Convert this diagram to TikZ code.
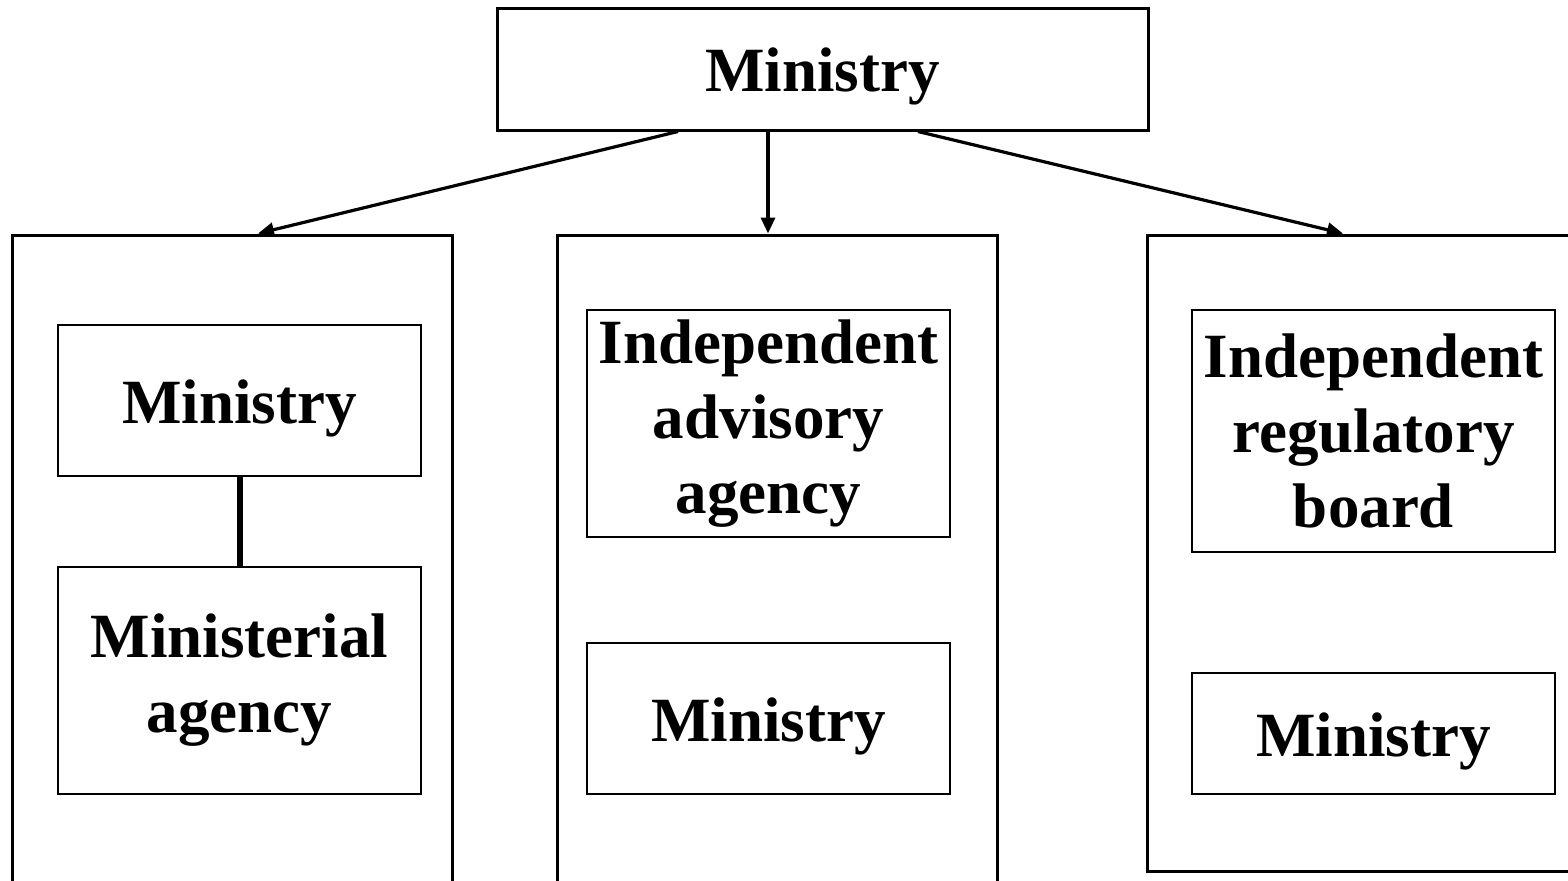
\documentclass[tikz,border=0pt]{standalone}
\usepackage{fontspec}
\setmainfont{Liberation Serif}
\usetikzlibrary{arrows.meta, positioning}

\begin{document}
\begin{tikzpicture}[
    x=0.5pt, y=-0.5pt,
    >={Triangle[length=8pt, width=7pt]},
    label/.style={font=\fontsize{31.5}{37.5}\selectfont\bfseries, align=center,
        execute at begin node={\rule{0pt}{29.5pt}}},
    panel/.style={draw, line width=1.5pt, minimum width=220pt, inner sep=0pt},
    unit/.style={draw, line width=1pt, minimum width=181.5pt, inner sep=0pt, label},
    arrow/.style={->, line width=1.6pt}
]
\useasboundingbox (0,0) rectangle (1568,880);
\clip (0,0) rectangle (1568,880);

% === Ministerio superior ===
\node[draw, line width=1.5pt, minimum width=325.5pt, minimum height=61pt, inner sep=0pt, label] (top) at (822.5,69) {Ministry};

% === Paneles ===
\node[panel, minimum height=382.5pt] (left) at (232,617.5) {};
\node[panel, minimum height=382.5pt] (mid) at (777,617.5) {};
\node[panel, minimum height=318pt] (right) at (1367,553) {};

% Flechas
\draw[arrow] ([xshift=-72.25pt]top.south) -- ([xshift=13pt]left.north);
\draw[arrow] ([xshift=-27.25pt]top.south) -- ([xshift=-4.5pt]mid.north);
\draw[arrow] ([xshift=47.75pt]top.south) -- ([xshift=-12pt]right.north);

% === Panel izquierdo ===
\node[unit, minimum height=75.5pt] (lmin) at (239.5,400.5) {Ministry};
\node[unit, minimum height=113.5pt] (lagency) at (239.5,680.5) {Ministerial\\agency};
\draw[line width=3pt] (lmin) -- (lagency);

% === Panel central ===
\node[unit, minimum height=113.5pt] (madvisory) at (768.5,423.5) {Independent\\advisory\\agency};
\node[unit, minimum height=75.5pt] (mmin) at (768.5,718.5) {Ministry};

% === Panel derecho ===
\node[unit, minimum height=121pt] (rboard) at (1373.5,431) {Independent\\regulatory\\board};
\node[unit, minimum height=60.5pt] (rmin) at (1373.5,733.5) {Ministry};

\end{tikzpicture}
\end{document}
